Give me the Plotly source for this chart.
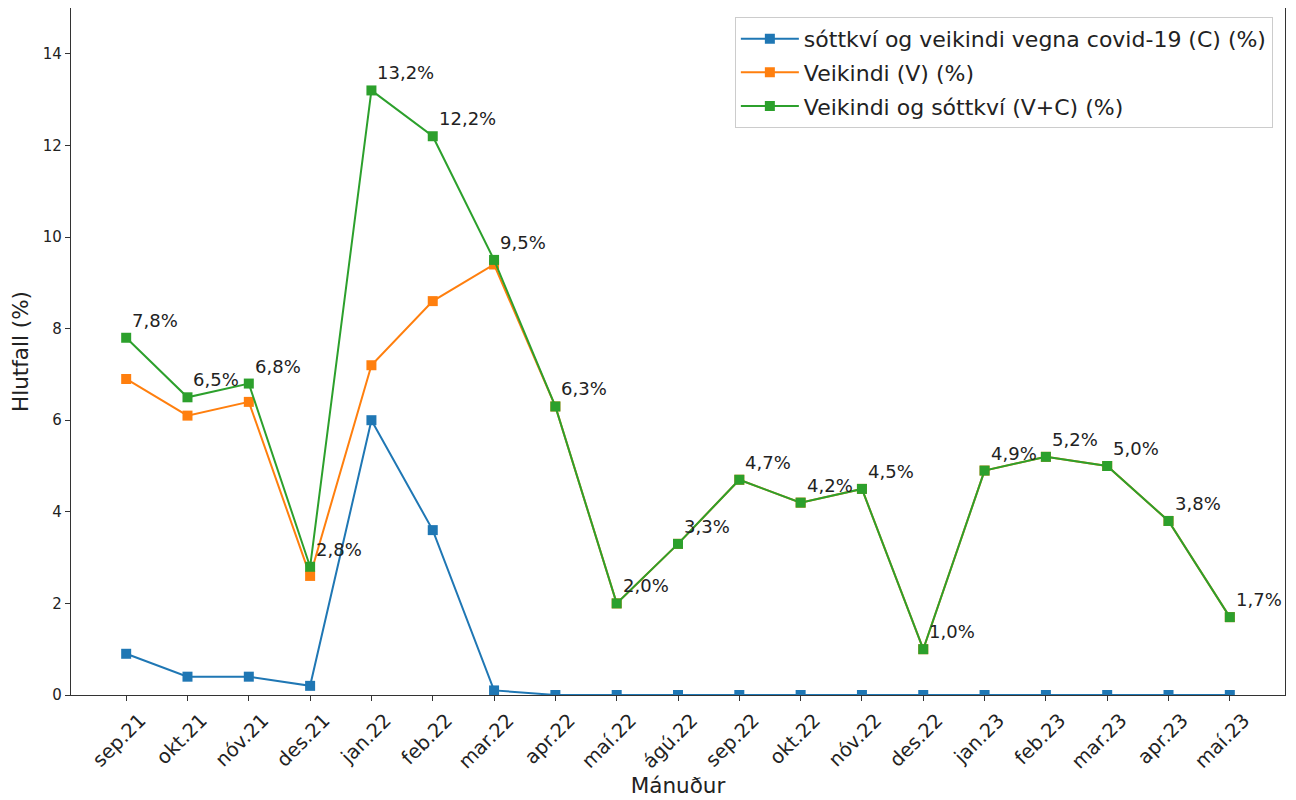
import plotly.graph_objects as go

months = ["sep.21", "okt.21", "nóv.21", "des.21", "jan.22", "feb.22", "mar.22",
          "apr.22", "maí.22", "ágú.22", "sep.22", "okt.22", "nóv.22", "des.22",
          "jan.23", "feb.23", "mar.23", "apr.23", "maí.23"]
covid = [0.9, 0.4, 0.4, 0.2, 6.0, 3.6, 0.1, 0, 0, 0, 0, 0, 0, 0, 0, 0, 0, 0, 0]
veikindi = [6.9, 6.1, 6.4, 2.6, 7.2, 8.6, 9.4, 6.3, 2.0, 3.3, 4.7, 4.2, 4.5, 1.0,
            4.9, 5.2, 5.0, 3.8, 1.7]
samtals = [7.8, 6.5, 6.8, 2.8, 13.2, 12.2, 9.5, 6.3, 2.0, 3.3, 4.7, 4.2, 4.5, 1.0,
           4.9, 5.2, 5.0, 3.8, 1.7]
y_ticks = [0, 2, 4, 6, 8, 10, 12, 14]

names = ["sóttkví og veikindi vegna covid-19 (C) (%)", "Veikindi (V) (%)",
         "Veikindi og sóttkví (V+C) (%)"]
colors = ["#1f77b4", "#ff7f0e", "#2ca02c"]
series = [covid, veikindi, samtals]

idx = list(range(len(months)))
fig = go.Figure()
for i, (nm, col, vals) in enumerate(zip(names, colors, series)):
    fig.add_trace(go.Scatter(
        x=idx, y=vals, name=nm, mode="lines+markers",
        line=dict(color=col, width=2),
        marker=dict(symbol="square", size=10, color=col),
        legendgroup=f"g{i}",
    ))

for xi, v in zip(idx, samtals):
    fig.add_annotation(
        x=xi, y=v, text=f"{v:.1f}%".replace(".", ","),
        showarrow=False, xanchor="left", yanchor="bottom",
        xshift=4, yshift=5,
        font=dict(family="DejaVu Sans", size=18, color="#222222"),
    )

axis_common = dict(
    showgrid=False, zeroline=False, showline=True, linecolor="#333333",
    linewidth=1.2, mirror=True, ticks="outside", ticklen=5, tickcolor="#333333",
    automargin=False,
)

fig.update_layout(
    width=1296, height=800,
    paper_bgcolor="white", plot_bgcolor="white",
    margin=dict(l=63, r=19, t=0, b=113),
    font=dict(family="DejaVu Sans", color="#222222"),
    showlegend=True,
    legend=dict(
        x=0.99, y=0.987, xanchor="right", yanchor="top",
        bgcolor="rgba(255,255,255,0.9)", bordercolor="#cccccc", borderwidth=1,
        font=dict(family="DejaVu Sans", size=22, color="#222222"),
        tracegroupgap=2, itemwidth=58,
    ),
    xaxis=dict(
        **axis_common,
        range=[-0.9, 18.9],
        tickmode="array", tickvals=idx, ticktext=months,
        tickangle=-45, tickfont=dict(size=19.5),
        ticklabelshift=14,
        title=dict(text="Mánuður", font=dict(size=21.5), standoff=3),
    ),
    yaxis=dict(
        **axis_common,
        range=[0, 15],
        tickmode="array", tickvals=y_ticks, ticktext=[str(t) for t in y_ticks],
        tickfont=dict(size=15),
        title=dict(text="Hlutfall (%)", font=dict(size=21.5), standoff=9),
    ),
)

fig.write_html("out.html")
